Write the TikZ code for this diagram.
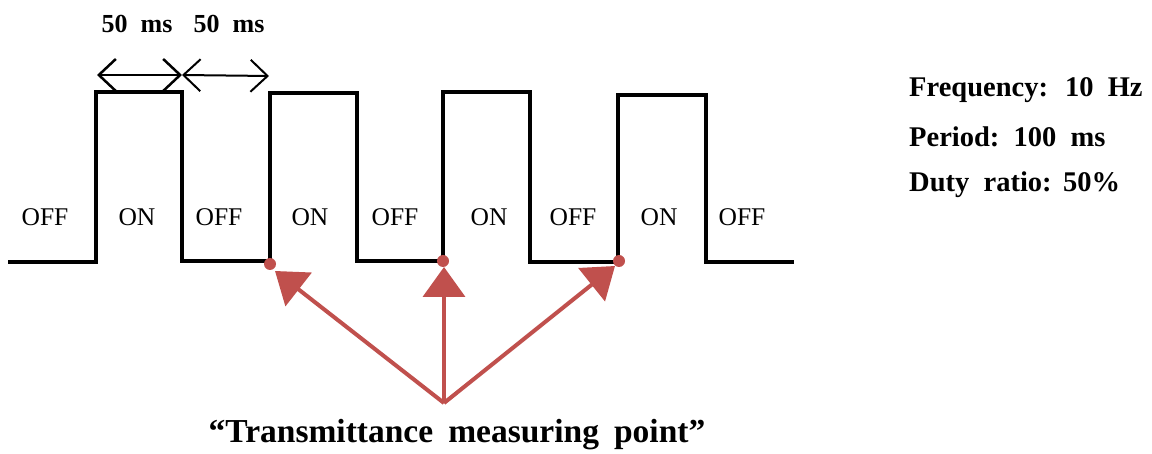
\documentclass[tikz,border=0pt]{standalone}
\usepackage{fontspec}
\setmainfont{Liberation Serif}
\usetikzlibrary{arrows.meta}
\definecolor{markred}{RGB}{192,80,77}
\begin{document}
\begin{tikzpicture}[x=1pt,y=-1pt,
  wave/.style={line width=4pt,black,line join=miter},
  statelbl/.style={font=\fontsize{25.5}{30}\selectfont,inner sep=0pt,anchor=center},
  durlbl/.style={font=\fontsize{26}{30}\selectfont\bfseries,inner sep=0pt},
  infolbl/.style={font=\fontsize{28.5}{32}\selectfont\bfseries,inner sep=0pt,anchor=west},
  titlelbl/.style={font=\fontsize{33.5}{38}\selectfont\bfseries,inner sep=0pt},
  dimarrow/.style={line width=2.5pt,{Straight Barb[length=17pt,width=32pt]}-{Straight Barb[length=17pt,width=32pt]}},
  measarrow/.style={line width=4pt,markred,-{Triangle[length=30pt,width=42pt]}},
  dotmark/.style={circle,fill=markred,inner sep=0pt,minimum size=12pt}
]
\useasboundingbox (0,0) rectangle (1152,454);
% waveform corners
\coordinate (w0) at (8,262);
\coordinate (r1b) at (96,262); \coordinate (r1t) at (96,92);
\coordinate (f1t) at (182,92); \coordinate (f1b) at (182,261);
\coordinate (r2b) at (270,261); \coordinate (r2t) at (270,93);
\coordinate (f2t) at (357,93); \coordinate (f2b) at (357,261);
\coordinate (r3b) at (443,261); \coordinate (r3t) at (443,92);
\coordinate (f3t) at (530,92); \coordinate (f3b) at (530,262);
\coordinate (r4b) at (618,262); \coordinate (r4t) at (618,95);
\coordinate (f4t) at (706,95); \coordinate (f4b) at (706,262);
\coordinate (wend) at (794,262);
\draw[wave] (w0) -- (r1b) -- (r1t) -- (f1t) -- (f1b) -- (r2b) -- (r2t) -- (f2t) -- (f2b) -- (r3b) -- (r3t) -- (f3t) -- (f3b) -- (r4b) -- (r4t) -- (f4t) -- (f4b) -- (wend);

% state labels
\node[statelbl] (s1) at (45,217) {OFF};
\node[statelbl] (s2) at (137,217) {ON};
\node[statelbl] (s3) at (219,217) {OFF};
\node[statelbl] (s4) at (310,217) {ON};
\node[statelbl] (s5) at (395,217) {OFF};
\node[statelbl] (s6) at (489,217) {ON};
\node[statelbl] (s7) at (573,217) {OFF};
\node[statelbl] (s8) at (659,217) {ON};
\node[statelbl] (s9) at (742,217) {OFF};

% duration arrows
\coordinate (d1) at (97,75);
\coordinate (d2) at (182,75);
\coordinate (d3) at (269,76);
\draw[dimarrow] (d1) -- (d2);
\draw[dimarrow,line width=2pt] (d2) -- (d3);
\node[durlbl] (t1) at (137,24) {50\hspace{0.5em}ms};
\node[durlbl] (t2) at (229,24) {50\hspace{0.5em}ms};

% info text
\node[infolbl] (i1) at (909,90) {Frequency:\hspace{0.6em}10\hspace{0.5em}Hz};
\node[infolbl] (i2) at (909,137) {Period:\hspace{0.5em}100\hspace{0.5em}ms};
\node[infolbl] (i3) at (909,185) {Duty\hspace{0.5em}ratio:\hspace{0.4em}50\%};

% measuring points
\node[dotmark] (p1) at (270,264) {};
\node[dotmark] (p2) at (443,261) {};
\node[dotmark] (p3) at (619,261) {};
\coordinate (src) at (444,403);
\coordinate (a1) at (275,271);
\coordinate (a2) at (444,267);
\coordinate (a3) at (615,266);
\draw[measarrow] (src) -- (a1);
\draw[measarrow] (src) -- (a2);
\draw[measarrow] (src) -- (a3);

\node[titlelbl] (title) at (457,435) {``Transmittance\hspace{0.45em}measuring\hspace{0.45em}point''};
\end{tikzpicture}
\end{document}
